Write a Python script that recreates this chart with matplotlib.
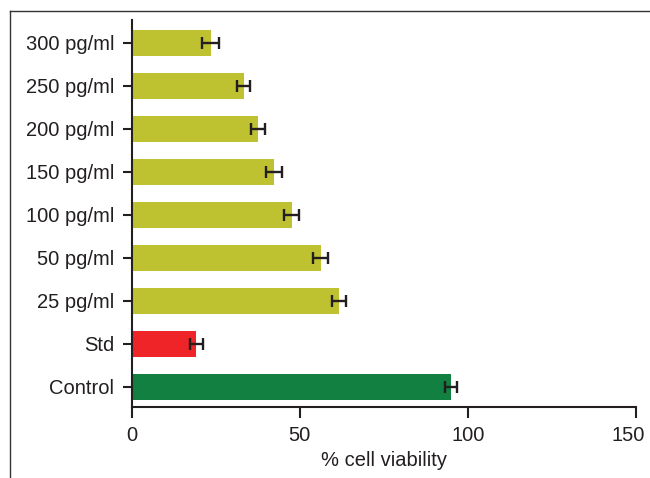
import numpy as np
import matplotlib
matplotlib.use("Agg")
import matplotlib.pyplot as plt
import matplotlib.transforms as mtransforms
from matplotlib.lines import Line2D

plt.rcParams["font.family"] = ["Liberation Sans", "DejaVu Sans"]

# dados (de baixo para cima)
grupos = ["Control", "Std", "25 pg/ml", "50 pg/ml", "100 pg/ml",
          "150 pg/ml", "200 pg/ml", "250 pg/ml", "300 pg/ml"]
viabilidade = [94.9, 19.2, 61.6, 56.2, 47.6, 42.3, 37.5, 33.3, 23.5]
erro = [1.8, 2.0, 2.0, 2.2, 2.2, 2.4, 2.0, 2.0, 2.5]
cores = ["#118040", "#EE2428"] + ["#BFC230"] * 7

preto = "#231f20"

fig = plt.figure(figsize=(6.5, 4.78), dpi=100)
ax = fig.add_axes([0.203, 0.1485, 0.775, 0.8095])

y = np.arange(len(grupos))
ax.barh(y, viabilidade, height=0.6, color=cores, zorder=2)
ax.errorbar(viabilidade, y, xerr=erro, fmt="none", ecolor=preto,
            elinewidth=1.7, capsize=4.3, capthick=1.7, zorder=3)

ax.set_xlim(0, 150)
ax.set_ylim(-0.47, 8.53)
ax.set_xticks([0, 50, 100, 150])
ax.set_yticks(y)
ax.set_yticklabels(grupos)
ax.set_xlabel("% cell viability", fontsize=14.5, color=preto, labelpad=4)

for lado in ["top", "right"]:
    ax.spines[lado].set_visible(False)
for lado in ["left", "bottom"]:
    ax.spines[lado].set_linewidth(1.5)
    ax.spines[lado].set_color(preto)

ax.tick_params(axis="x", length=8, width=1.5, pad=6, labelsize=14.5,
               colors=preto)
ax.tick_params(axis="y", length=6.7, width=1.5, pad=6, labelsize=14.5,
               colors=preto)

# o último rótulo (150) aparece deslocado para a esquerda no original
ultimo = ax.get_xticklabels()[-1]
ultimo.set_transform(ultimo.get_transform() +
                     mtransforms.ScaledTranslation(-8 / 100, 0, fig.dpi_scale_trans))

# moldura parcial da imagem original
fig.add_artist(Line2D([0.016, 0.016], [0, 0.977], transform=fig.transFigure,
                      color="#333333", lw=1))
fig.add_artist(Line2D([0.016, 1.0], [0.977, 0.977], transform=fig.transFigure,
                      color="#333333", lw=1))

fig.savefig("out.png", dpi=100)
plt.close()
